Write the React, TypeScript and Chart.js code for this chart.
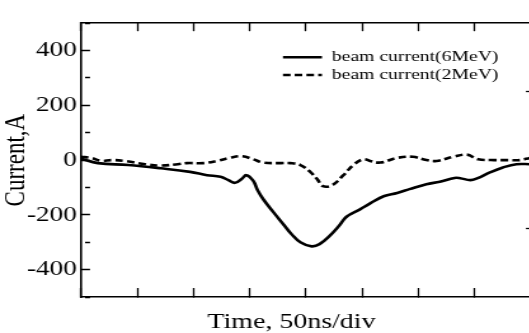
import React, { useEffect, useRef } from 'react';
import { Chart, registerables } from 'chart.js';

Chart.register(...registerables);

// ---- data (time in ns, current in A) ----
const TIME_6MEV = [0, 15, 42, 71, 97, 112, 124, 131, 137, 143, 147, 153, 157, 162, 171, 180, 187, 195, 205, 212, 221, 229, 236, 248, 257, 269, 281, 292, 307, 319, 332, 337, 346, 352, 364, 375, 387, 399];
const CURRENT_6MEV = [5, -11, -18, -30, -43, -55, -61, -73, -83, -68, -55, -75, -110, -143, -190, -235, -270, -300, -315, -307, -277, -242, -207, -180, -158, -132, -120, -106, -88, -79, -65, -66, -73, -67, -44, -27, -15, -15];

const TIME_2MEV = [0, 9, 18, 27, 39, 57, 71, 86, 94, 109, 121, 132, 143, 153, 162, 177, 186, 195, 204, 210, 215, 223, 233, 242, 251, 257, 266, 281, 295, 307, 316, 331, 343, 353, 367, 379, 390, 399];
const CURRENT_2MEV = [12, 8, -3, 0, -3, -15, -20, -15, -11, -11, -3, 8, 14, 3, -9, -11, -11, -18, -44, -70, -95, -92, -56, -18, 3, -3, -9, 8, 12, 0, -3, 12, 20, 3, 0, 0, 0, 8];

const SERIES_LABELS = ['beam current(6MeV)', 'beam current(2MeV)'];
const Y_LABEL_VALUES = [-400, -200, 0, 200, 400];
const X_TITLE = 'Time, 50ns/div';
const Y_TITLE = 'Current,A';

// ---- layout (internal canvas px; canvas is stretched horizontally) ----
const SX = 1.27;
const W = 459;
const H = 333;
const PLOT_LEFT = 81 / SX;
const PLOT_RIGHT = 531 / SX;
const PLOT_TOP = 11;
const PLOT_BOTTOM = 297;
const TITLE_SIZE = 22;
const LEGEND_W = 0.5;
const LINE_W = 2.6;
const LEGEND_BOX_W = 30.7;
// dash period chosen so a zero-height legend rect keeps its dashes aligned
const DASH = [6, (2 * LEGEND_BOX_W - 6) / 6 - 6];
const FONT = '"Liberation Serif", "Times New Roman", serif';

const legendPlacer = {
  id: 'legendPlacer',
  beforeDraw(chart: any) {
    const lg = chart.legend;
    if (!lg) return;
    lg.left = 220.6;
    lg.top = 47.35;
    lg.width = 260;
    lg.height = 60;
    lg.right = lg.left + lg.width;
    lg.bottom = lg.top + lg.height;
  },
};

export default function App() {
  const ref = useRef<HTMLCanvasElement>(null);

  useEffect(() => {
    if (!ref.current) return;
    Chart.defaults.font.family = FONT;
    Chart.defaults.color = '#000';
    const toPts = (xs: number[], ys: number[]) => xs.map((x, i) => ({ x, y: ys[i] }));
    const chart = new Chart(ref.current, {
      type: 'line',
      data: {
        datasets: [
          {
            label: SERIES_LABELS[0],
            data: toPts(TIME_6MEV, CURRENT_6MEV),
            borderColor: '#000',
            backgroundColor: '#000',
            borderWidth: LINE_W,
            pointRadius: 0,
            tension: 0.4,
          },
          {
            label: SERIES_LABELS[1],
            data: toPts(TIME_2MEV, CURRENT_2MEV),
            borderColor: '#000',
            backgroundColor: '#000',
            borderWidth: LINE_W,
            borderDash: DASH,
            pointRadius: 0,
            tension: 0.4,
          },
        ],
      },
      options: {
        responsive: false,
        animation: false,
        events: [],
        layout: { padding: 0, autoPadding: false },
        scales: {
          x: {
            type: 'linear',
            position: 'bottom',
            min: 0,
            max: 400,
            ticks: { stepSize: 50, callback: () => '', autoSkip: false },
            grid: { drawOnChartArea: false, tickLength: -9, tickColor: '#000', tickWidth: 1.3 },
            border: { color: '#000', width: 1.6 },
            afterFit: (s: any) => { s.height = H - PLOT_BOTTOM - TITLE_SIZE; },
          },
          x2: {
            type: 'linear',
            position: 'top',
            min: 0,
            max: 400,
            ticks: { stepSize: 50, callback: () => '', autoSkip: false },
            grid: { drawOnChartArea: false, tickLength: -8, tickColor: '#000', tickWidth: 1.3 },
            border: { color: '#000', width: 1.6 },
            afterFit: (s: any) => { s.height = PLOT_TOP; },
          },
          y: {
            type: 'linear',
            position: 'left',
            min: -500,
            max: 500,
            ticks: {
              stepSize: 100,
              autoSkip: false,
              padding: 10.3,
              font: { family: FONT, size: 21.5 },
              color: '#000',
              callback: (v: any) => (Y_LABEL_VALUES.includes(Number(v)) ? String(v) : ''),
            },
            grid: {
              drawOnChartArea: false,
              tickLength: -7.1,
              tickColor: '#000',
              tickWidth: 1.5,
              tickBorderDash: (ctx: any) => (ctx.tick && Number(ctx.tick.value) % 200 === 0 ? [] : [3.9, 40]),
            },
            border: { color: '#000', width: 1.6 },
            title: {
              display: true,
              text: Y_TITLE,
              color: '#000',
              font: { family: FONT, size: 23, lineHeight: 1.1 },
              padding: 0,
            },
            afterFit: (s: any) => { s.width = PLOT_LEFT; },
          },
          y2: {
            type: 'linear',
            position: 'right',
            min: -500,
            max: 500,
            ticks: { stepSize: 250, callback: () => '', autoSkip: false },
            grid: {
              drawOnChartArea: false,
              tickLength: -4,
              tickWidth: 1.3,
              tickColor: (ctx: any) => (ctx.tick && Math.abs(Number(ctx.tick.value)) === 250 ? '#000' : 'rgba(0,0,0,0)'),
            },
            border: { color: '#000', width: 1.6 },
            afterFit: (s: any) => { s.width = W - LEGEND_W - PLOT_RIGHT; },
          },
        },
        plugins: {
          title: {
            display: true,
            position: 'bottom',
            text: X_TITLE,
            color: '#000',
            font: { family: FONT, size: TITLE_SIZE, lineHeight: 1, weight: 'normal' },
            padding: { top: 0, bottom: 0 },
            align: 'center',
            fullSize: true,
          },
          legend: {
            display: true,
            position: 'right',
            align: 'start',
            maxWidth: LEGEND_W,
            labels: {
              usePointStyle: false,
              boxWidth: LEGEND_BOX_W,
              boxHeight: 0,
              padding: 2.2,
              color: '#000',
              font: { family: FONT, size: 15.5 },
              generateLabels: (c: any) => {
                const items = Chart.defaults.plugins.legend.labels.generateLabels(c);
                return items.map((it: any, i: number) => ({
                  ...it,
                  fillStyle: 'rgba(0,0,0,0)',
                  strokeStyle: '#000',
                  lineWidth: LINE_W,
                  lineCap: 'butt',
                  lineDashOffset: 0,
                  lineDash: (c.data.datasets[it.datasetIndex ?? i] as any).borderDash || [],
                }));
              },
            },
          },
          tooltip: { enabled: false },
        },
      } as any,
      plugins: [legendPlacer],
    });
    return () => chart.destroy();
  }, []);

  return (
    <div style={{ position: 'fixed', left: 0, top: 0, width: 529, height: 333, overflow: 'hidden', background: '#fff' }}>
      <div style={{ width: W, height: H, transform: `scaleX(${SX})`, transformOrigin: '0 0' }}>
        <canvas ref={ref} width={W} height={H} />
      </div>
    </div>
  );
}
